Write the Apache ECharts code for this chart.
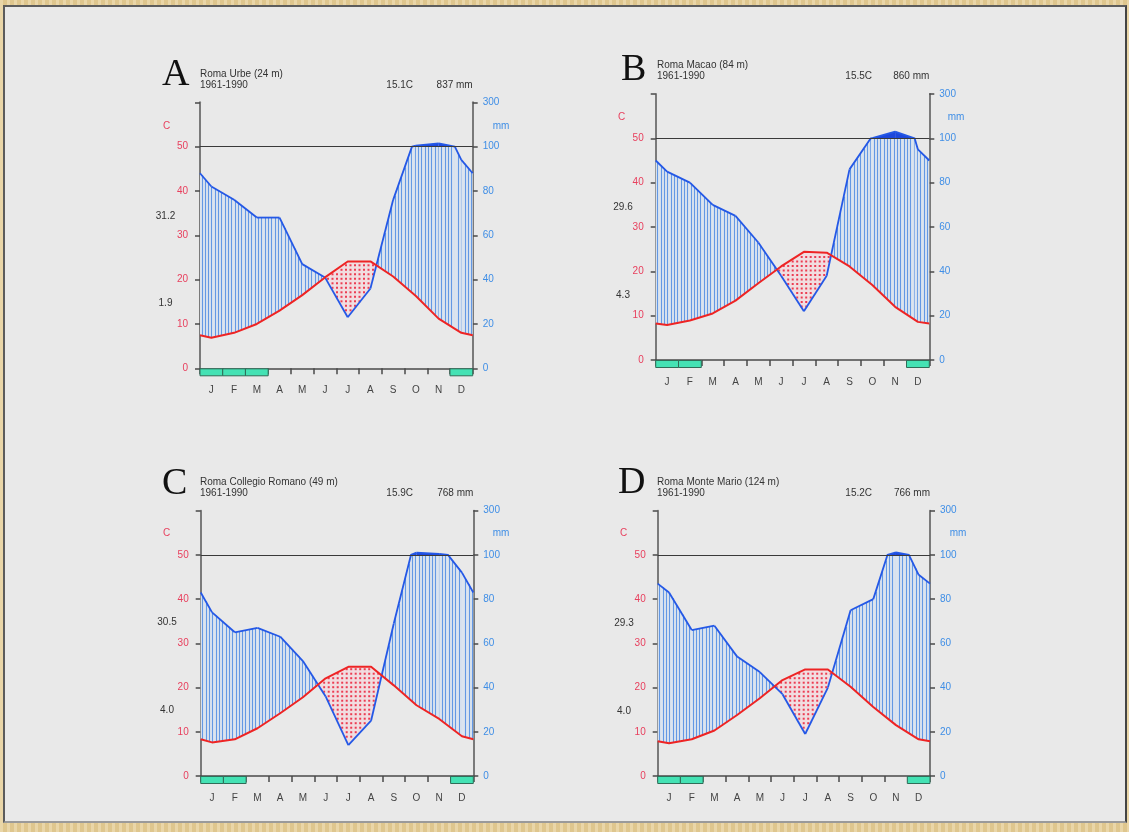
<!DOCTYPE html>
<html>
<head>
<meta charset="utf-8">
<script src="https://cdn.jsdelivr.net/npm/echarts@6/dist/echarts.min.js"></script>
<style>
html, body { margin: 0; padding: 0; width: 1129px; height: 832px; overflow: hidden;
  background: #e5cd95 repeating-linear-gradient(90deg, rgba(255,255,255,0.18) 0 3px, rgba(120,90,30,0.06) 3px 7px); }
#frame { position: absolute; left: 3px; top: 5px; width: 1120px; height: 814px; background: #e9e9e9;
  border-top: 2px solid #5c5c5c; border-left: 2px solid #5c5c5c; border-right: 2px solid #444; border-bottom: 2px solid #9a9a9a; }
#chart { position: absolute; left: 0; top: 0; width: 1129px; height: 832px; }
</style>
</head>
<body>
<div id="frame"></div>
<div id="chart"></div>
<script>
// monthly data
var months = ['J', 'F', 'M', 'A', 'M', 'J', 'J', 'A', 'S', 'O', 'N', 'D'];
var letters = ['A', 'B', 'C', 'D'];
var stations = ['Roma Urbe (24 m)', 'Roma Macao (84 m)', 'Roma Collegio Romano (49 m)', 'Roma Monte Mario (124 m)'];
var periods = ['1961-1990', '1961-1990', '1961-1990', '1961-1990'];
var annualTemp = ['15.1C', '15.5C', '15.9C', '15.2C'];
var annualPrec = ['837 mm', '860 mm', '768 mm', '766 mm'];
var maxWarm = ['31.2', '29.6', '30.5', '29.3'];
var minCold = ['1.9', '4.3', '4.0', '4.0'];

var tempA = [6.9, 8.0, 10.0, 13.0, 16.5, 20.5, 24.1, 24.1, 20.7, 16.3, 11.2, 8.0];
var precA = [82, 76, 68, 68, 47, 41, 23, 36, 76, 105, 115, 94];
var tempB = [7.9, 8.9, 10.5, 13.4, 17.3, 21.1, 24.4, 24.2, 21.1, 16.9, 12.0, 8.6];
var precB = [85, 80, 70, 65, 53, 38, 22, 38, 86, 101, 130, 95];
var tempC = [7.6, 8.3, 10.8, 14.2, 17.8, 22.1, 24.7, 24.7, 20.5, 16.0, 12.9, 9.0];
var precC = [74, 65, 67, 63, 52, 36, 14, 25, 69, 110, 105, 92];
var tempD = [7.4, 8.3, 10.3, 13.8, 17.6, 21.7, 24.1, 24.1, 20.2, 15.6, 11.5, 8.3];
var precD = [83, 66, 68, 54, 47, 37, 19, 40, 75, 80, 112, 91];

// months with frost (index into months)
var frostA = [0, 1, 2, 11];
var frostB = [0, 1, 11];
var frostC = [0, 1, 11];
var frostD = [0, 1, 11];

var tempTicks = ['0', '10', '20', '30', '40', '50', ''];
var precTicks = ['0', '20', '40', '60', '80', '100', '300'];

var temps = [tempA, tempB, tempC, tempD];
var precs = [precA, precB, precC, precD];
var frosts = [frostA, frostB, frostC, frostD];

// page layout of the four diagrams
var layout = [
  {left: 200, top: 102.3, width: 272.7, height: 266, letter: [162, 75], head: [200, 74], tmean: 413, side: [165.5, 216, 303], cLab: [166.5, 126], mmLab: [501, 126]},
  {left: 655.7, top: 94, width: 273.6, height: 266, letter: [621, 70.5], head: [657, 65], tmean: 872, side: [623, 207, 295], cLab: [621.5, 117], mmLab: [956, 117]},
  {left: 200.7, top: 510.7, width: 272.6, height: 265.3, letter: [162, 484.5], head: [200, 482], tmean: 413, side: [167, 622, 710], cLab: [166.5, 533], mmLab: [501, 533]},
  {left: 657.7, top: 510.7, width: 272.3, height: 265.3, letter: [618, 483.5], head: [657, 482], tmean: 872, side: [624, 623, 711], cLab: [623.5, 533], mmLab: [958, 533]}
];

var RED = '#ee2424', BLUE = '#2458e6', HATCH = '#6398e4', DOT = '#ec3c52';
var FONT = '"Liberation Sans", Arial, sans-serif';

// precipitation in the temperature scale: 20 mm = 10 C up to 100 mm, compressed above
function disp(p) { return p <= 100 ? p / 2 : 50 + (p - 100) / 20; }
function lerp(a, b, f) { return a + (b - a) * f; }

function points(temp, prec) {
  var te = (temp[0] + temp[11]) / 2, pe = (prec[0] + prec[11]) / 2;
  var pts = [[0, te, pe]];
  for (var i = 0; i < 12; i++) pts.push([i + 0.5, temp[i], prec[i]]);
  pts.push([12, te, pe]);
  return pts;
}
function segments(pts) {
  return pts.slice(1).map(function (q, i) { return pts[i].concat(q); });
}

function fillItem(params, api) {
  var a = [api.value(0), api.value(1), api.value(2)], b = [api.value(3), api.value(4), api.value(5)];
  var left = api.coord([0, 0])[0], top = api.coord([0, 60])[1];
  var cuts = [0];
  if ((a[2] - 100) * (b[2] - 100) < 0) cuts.push((100 - a[2]) / (b[2] - a[2]));
  cuts.push(1);
  var all = [];
  for (var k = 0; k < cuts.length - 1; k++) {
    var f0 = cuts[k], f1 = cuts[k + 1];
    var g0 = disp(lerp(a[2], b[2], f0)) - lerp(a[1], b[1], f0);
    var g1 = disp(lerp(a[2], b[2], f1)) - lerp(a[1], b[1], f1);
    all.push(f0);
    if (g0 * g1 < 0) all.push(f0 + (f1 - f0) * g0 / (g0 - g1));
  }
  all.push(1);
  var children = [];
  for (var s = 0; s < all.length - 1; s++) {
    var fa = all[s], fb = all[s + 1];
    if (fb - fa < 1e-6) continue;
    var xa = lerp(a[0], b[0], fa), xb = lerp(a[0], b[0], fb);
    var ta = lerp(a[1], b[1], fa), tb = lerp(a[1], b[1], fb);
    var da = disp(lerp(a[2], b[2], fa)), db = disp(lerp(a[2], b[2], fb));
    var pa = api.coord([xa, ta]), pb = api.coord([xb, tb]);
    var qa = api.coord([xa, Math.min(da, 50)]), qb = api.coord([xb, Math.min(db, 50)]);
    var w = pb[0] - pa[0];
    var wet = (da + db) / 2 >= (ta + tb) / 2;
    children.push({type: 'polygon', shape: {points: [pa, pb, qb, qa]},
      style: {fill: wet ? '#dbe4ef' : '#f1dde0'}});
    if (wet) {
      for (var X = left + 1.5; X < pb[0]; X += 3.33) {
        if (X < pa[0]) continue;
        var u = (X - pa[0]) / w;
        var px = Math.round(X) + 0.5;
        children.push({type: 'line', shape: {x1: px, y1: lerp(pa[1], pb[1], u), x2: px, y2: lerp(qa[1], qb[1], u)},
          style: {stroke: HATCH, lineWidth: 1.1}});
      }
    } else {
      for (var Xd = left + 2; Xd < pb[0]; Xd += 4.5) {
        if (Xd < pa[0]) continue;
        var v = (Xd - pa[0]) / w;
        var yT = lerp(pa[1], pb[1], v), yD = lerp(qa[1], qb[1], v);
        for (var Y = top + 1; Y < yD - 1; Y += 4.5) {
          if (Y <= yT + 1) continue;
          children.push({type: 'rect', shape: {x: Xd - 1, y: Y - 1, width: 2, height: 2}, style: {fill: DOT}});
        }
      }
    }
    if ((da + db) / 2 > 50) {
      children.push({type: 'polygon', shape: {points: [api.coord([xa, 50]), api.coord([xa, da]), api.coord([xb, db]), api.coord([xb, 50])]},
        style: {fill: '#1d48dc'}});
    }
  }
  return {type: 'group', children: children};
}

function precLineItem(params, api) {
  var a = [api.value(0), api.value(2)], b = [api.value(3), api.value(5)];
  var pts = [api.coord([a[0], disp(a[1])])];
  if ((a[1] - 100) * (b[1] - 100) < 0) {
    var f = (100 - a[1]) / (b[1] - a[1]);
    pts.push(api.coord([lerp(a[0], b[0], f), 50]));
  }
  pts.push(api.coord([b[0], disp(b[1])]));
  return {type: 'polyline', shape: {points: pts}, style: {stroke: BLUE, lineWidth: 1.8, fill: 'none', lineJoin: 'round'}};
}

function frostItem(params, api) {
  var m = api.value(0);
  var p0 = api.coord([m, 0]), p1 = api.coord([m + 1, 0]);
  return {type: 'rect', shape: {x: p0[0], y: p0[1] + 0.5, width: p1[0] - p0[0], height: 7},
    style: {fill: '#44e2b4', stroke: '#2f6d58', lineWidth: 1}};
}

var grids = [], xAxes = [], yAxes = [], series = [], graphics = [];

stations.forEach(function (name, i) {
  var L = layout[i];
  grids.push({left: L.left, top: L.top, width: L.width, height: L.height});
  xAxes.push({type: 'category', gridIndex: i, data: months, boundaryGap: true, position: 'bottom',
    axisLine: {lineStyle: {color: '#4a4a4a', width: 1.5}},
    axisTick: {show: true, length: 6, interval: 0, lineStyle: {color: '#4a4a4a', width: 1.5}},
    axisLabel: {color: '#444', fontSize: 10, margin: 17, interval: 0, fontFamily: FONT},
    splitLine: {show: false}});
  xAxes.push({type: 'value', gridIndex: i, min: 0, max: 12, show: false});
  yAxes.push({type: 'value', gridIndex: i, position: 'left', min: 0, max: 60, interval: 10,
    axisLine: {show: true, lineStyle: {color: '#7a7a7a', width: 2}},
    axisTick: {show: true, length: 5, lineStyle: {color: '#4a4a4a', width: 1.5}},
    axisLabel: {color: '#e8405e', fontSize: 10, margin: 12, fontFamily: FONT, formatter: function (v) { return tempTicks[v / 10]; }},
    splitLine: {show: false}});
  yAxes.push({type: 'value', gridIndex: i, position: 'right', min: 0, max: 120, interval: 20,
    axisLine: {show: true, lineStyle: {color: '#7a7a7a', width: 2}},
    axisTick: {show: true, length: 5, lineStyle: {color: '#4a4a4a', width: 1.5}},
    axisLabel: {color: '#3f8ee6', fontSize: 10, margin: 10, fontFamily: FONT, formatter: function (v) { return precTicks[v / 20]; }},
    splitLine: {show: false}});

  var pts = points(temps[i], precs[i]), segs = segments(pts);
  series.push({type: 'custom', xAxisIndex: 2 * i + 1, yAxisIndex: 2 * i, data: segs, renderItem: fillItem, z: 2, silent: true});
  series.push({type: 'custom', xAxisIndex: 2 * i + 1, yAxisIndex: 2 * i, data: segs, renderItem: precLineItem, z: 3, silent: true});
  series.push({type: 'line', xAxisIndex: 2 * i + 1, yAxisIndex: 2 * i, z: 4, silent: true,
    data: pts.map(function (p) { return [p[0], p[1]]; }), symbol: 'none',
    lineStyle: {color: RED, width: 2},
    markLine: {silent: true, symbol: 'none', label: {show: false}, animation: false,
      lineStyle: {color: '#3a3a3a', width: 1, type: 'solid'}, data: [{yAxis: 50}]}});
  series.push({type: 'custom', xAxisIndex: 2 * i + 1, yAxisIndex: 2 * i, z: 5, silent: true,
    data: frosts[i].map(function (m) { return [m]; }), renderItem: frostItem});

  var right = L.left + L.width;
  graphics.push(
    {type: 'text', x: L.letter[0], y: L.letter[1], style: {text: letters[i], font: '38px "Liberation Serif", "Times New Roman", serif', fill: '#111', align: 'left', verticalAlign: 'middle'}},
    {type: 'text', x: L.head[0], y: L.head[1], style: {text: name, font: '10px ' + FONT, fill: '#333', align: 'left', verticalAlign: 'middle'}},
    {type: 'text', x: L.head[0], y: L.head[1] + 11.5, style: {text: periods[i], font: '10px ' + FONT, fill: '#333', align: 'left', verticalAlign: 'middle'}},
    {type: 'text', x: L.tmean, y: L.head[1] + 11.5, style: {text: annualTemp[i], font: '10px ' + FONT, fill: '#333', align: 'right', verticalAlign: 'middle'}},
    {type: 'text', x: right, y: L.head[1] + 11.5, style: {text: annualPrec[i], font: '10px ' + FONT, fill: '#333', align: 'right', verticalAlign: 'middle'}},
    {type: 'text', x: L.side[0], y: L.side[1], style: {text: maxWarm[i], font: '10px ' + FONT, fill: '#333', align: 'center', verticalAlign: 'middle'}},
    {type: 'text', x: L.side[0], y: L.side[2], style: {text: minCold[i], font: '10px ' + FONT, fill: '#333', align: 'center', verticalAlign: 'middle'}},
    {type: 'text', x: L.cLab[0], y: L.cLab[1], style: {text: 'C', font: '10px ' + FONT, fill: '#e8405e', align: 'center', verticalAlign: 'middle'}},
    {type: 'text', x: L.mmLab[0], y: L.mmLab[1], style: {text: 'mm', font: '10px ' + FONT, fill: '#3f8ee6', align: 'center', verticalAlign: 'middle'}}
  );
});

var chart = echarts.init(document.getElementById('chart'));
chart.setOption({
  animation: false,
  backgroundColor: 'transparent',
  grid: grids,
  xAxis: xAxes,
  yAxis: yAxes,
  series: series,
  graphic: graphics
});
</script>
</body>
</html>
